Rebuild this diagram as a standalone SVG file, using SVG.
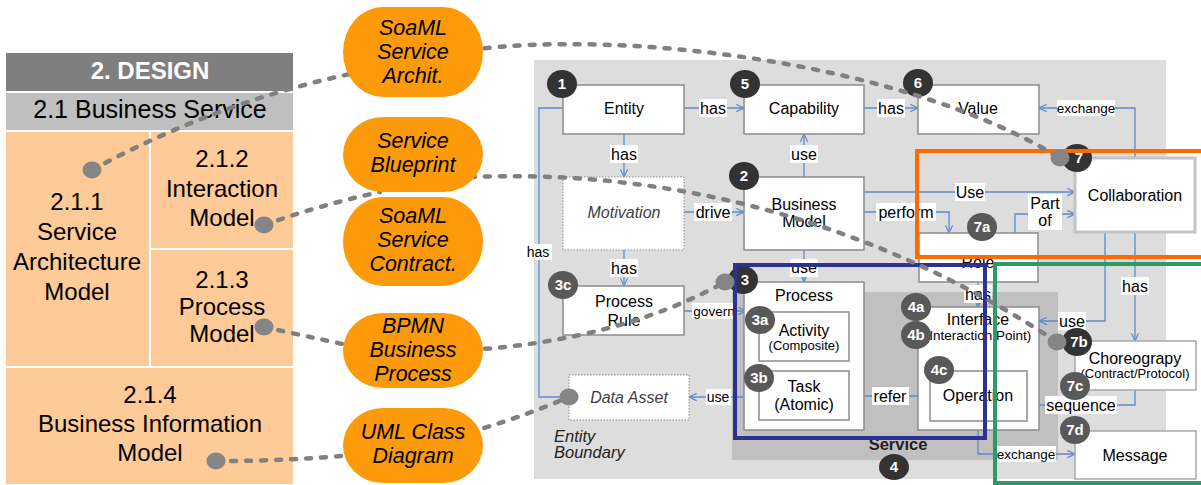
<svg xmlns="http://www.w3.org/2000/svg" width="1201" height="485" viewBox="0 0 1201 485">
<defs>
<style>
text{font-family:"Liberation Sans",Arial,sans-serif;}
.lp{font-size:24px;fill:#000;text-anchor:middle;}
.ov{font-size:21.5px;font-style:italic;fill:#000;text-anchor:middle;}
.oval{fill:#fc9a0a;}
.cell{fill:#fdca98;}
.nd{fill:#fff;stroke:#8c8c8c;stroke-width:1.5;}
.ndl{fill:#fff;stroke:#a8a8a8;stroke-width:1.5;}
.nddot{fill:#fff;stroke:#8c8c8c;stroke-width:1;stroke-dasharray:1.5 1.5;}
.nt{font-size:16px;fill:#000;text-anchor:middle;}
.ns{font-size:13px;fill:#000;text-anchor:middle;}
.ni{font-size:16px;font-style:italic;fill:#404040;text-anchor:middle;}
.lb{font-size:16px;fill:#000;text-anchor:middle;}
.lbs{font-size:13.5px;fill:#000;text-anchor:middle;}
.lbg{fill:#fff;}
.bd{fill:#333;}
.bds{fill:#595959;}
.bt{font-size:15px;font-weight:bold;fill:#fff;text-anchor:middle;}
.map{fill:none;stroke:#808080;stroke-width:4.5;stroke-linecap:round;stroke-dasharray:5 10;}
.dot{fill:#858585;}
</style>
<marker id="arr" viewBox="0 0 10 10" refX="9.5" refY="5" markerWidth="9" markerHeight="9" markerUnits="userSpaceOnUse" orient="auto">
<path d="M1,1 L9.5,5 L1,9" fill="none" stroke="#5b8bd0" stroke-width="1.3"/>
</marker>
</defs>
<rect width="1201" height="485" fill="#fff"/>

<!-- Left panel -->
<g id="panel">
<rect x="6" y="53" width="287" height="38" fill="#7f7f7f"/>
<text x="150" y="79" style="font-size:24px;font-weight:bold;fill:#fff;text-anchor:middle">2. DESIGN</text>
<rect x="6" y="93" width="287" height="37" fill="#bfbfbf"/>
<text x="150" y="118" style="font-size:25px;fill:#000;text-anchor:middle">2.1 Business Service</text>
</g>
<g id="n211">
<rect class="cell" x="6" y="132" width="143" height="234"/>
<text class="lp" x="77" y="210">2.1.1</text>
<text class="lp" x="77" y="240">Service</text>
<text class="lp" x="77" y="270">Architecture</text>
<text class="lp" x="77" y="300">Model</text>
</g>
<g id="n212">
<rect class="cell" x="151" y="132" width="142" height="116"/>
<text class="lp" x="222" y="167">2.1.2</text>
<text class="lp" x="222" y="197">Interaction</text>
<text class="lp" x="222" y="226">Model</text>
</g>
<g id="n213">
<rect class="cell" x="151" y="250" width="142" height="116"/>
<text class="lp" x="222" y="288">2.1.3</text>
<text class="lp" x="222" y="315">Process</text>
<text class="lp" x="222" y="342">Model</text>
</g>
<g id="n214">
<rect class="cell" x="6" y="368" width="287" height="116"/>
<text class="lp" x="150" y="403">2.1.4</text>
<text class="lp" x="150" y="432">Business Information</text>
<text class="lp" x="150" y="461">Model</text>
</g>

<!-- Right diagram backgrounds -->
<rect id="entity-boundary" x="534" y="60" width="632" height="419" fill="#dddddd"/>
<rect id="service-area" x="732" y="292" width="326" height="168" fill="#c0c0c0"/>
<text x="554" y="442" style="font-size:16.5px;font-style:italic;fill:#222">Entity</text>
<text x="554" y="458" style="font-size:16.5px;font-style:italic;fill:#222">Boundary</text>
<text x="898" y="450" style="font-size:16.5px;font-weight:bold;fill:#222;text-anchor:middle">Service</text>

<!-- Connectors -->
<g id="connectors" fill="none" stroke="#5b8bd0" stroke-width="1.3" marker-end="url(#arr)">
<path d="M684,108 H744"/>
<path d="M864,108 H918"/>
<path d="M624,134 V177"/>
<path d="M804,177 V134"/>
<path d="M684,212 H744"/>
<path d="M624,250 V286"/>
<path d="M804,250 V282"/>
<path d="M864,192 H1075"/>
<path d="M864,212 H949 V233"/>
<path d="M1015,233 V214 H1075"/>
<path d="M1135,158 V108 H1039"/>
<path d="M563,108 H539 V397 H569"/>
<path d="M684,311 H746"/>
<path d="M748,397 H689"/>
<path d="M930,396 H849"/>
<path d="M978,282 V307"/>
<path d="M1105,232 V321 H1039"/>
<path d="M1135,232 V341"/>
<path d="M1135,390 V405 H1027"/>
<path d="M978,421 V454 H1075"/>
</g>
<g id="connector-labels">
<rect class="lbg" x="699" y="99" width="28" height="18"/><text class="lb" x="713" y="114">has</text>
<rect class="lbg" x="877" y="99" width="28" height="18"/><text class="lb" x="891" y="114">has</text>
<rect class="lbg" x="610" y="145" width="28" height="18"/><text class="lb" x="624" y="160">has</text>
<rect class="lbg" x="790" y="145" width="28" height="18"/><text class="lb" x="804" y="160">use</text>
<rect class="lbg" x="694" y="203" width="38" height="18"/><text class="lb" x="713" y="218">drive</text>
<rect class="lbg" x="610" y="259" width="28" height="18"/><text class="lb" x="624" y="274">has</text>
<rect class="lbg" x="790" y="259" width="28" height="18"/><text class="lb" x="804" y="273">use</text>
<rect class="lbg" x="955" y="183" width="30" height="18"/><text class="lb" x="970" y="198">Use</text>
<rect class="lbg" x="876" y="203" width="60" height="18"/><text class="lb" x="906" y="218">perform</text>
<rect class="lbg" x="1028" y="194" width="34" height="36"/><text class="lb" x="1045" y="209">Part</text><text class="lb" x="1045" y="226">of</text>
<rect class="lbg" x="1057" y="100" width="58" height="16"/><text class="lbs" x="1086" y="113">exchange</text>
<rect class="lbg" x="525" y="244" width="27" height="16"/><text x="538" y="257" style="font-size:14px;fill:#000;text-anchor:middle">has</text>
<rect class="lbg" x="692" y="303" width="44" height="16"/><text class="lbs" x="714" y="316">govern</text>
<rect class="lbg" x="706" y="389" width="25" height="16"/><text x="718" y="402" style="font-size:14px;fill:#000;text-anchor:middle">use</text>
<rect class="lbg" x="872" y="387" width="37" height="18"/><text class="lb" x="890" y="402">refer</text>
<rect class="lbg" x="964" y="285" width="28" height="18"/><text class="lb" x="978" y="300">has</text>
<rect class="lbg" x="1058" y="312" width="28" height="18"/><text class="lb" x="1072" y="327">use</text>
<rect class="lbg" x="1121" y="277" width="28" height="18"/><text class="lb" x="1135" y="292">has</text>
<rect class="lbg" x="1045" y="396" width="72" height="18"/><text class="lb" x="1081" y="411">sequence</text>
<rect class="lbg" x="996" y="446" width="60" height="16"/><text class="lbs" x="1026" y="459">exchange</text>
</g>

<!-- Nodes -->
<g id="entity"><rect class="nd" x="563" y="85" width="121" height="49"/><text class="nt" x="624" y="114">Entity</text></g>
<g id="capability"><rect class="nd" x="744" y="85" width="120" height="49"/><text class="nt" x="804" y="114">Capability</text></g>
<g id="value"><rect class="nd" x="918" y="85" width="121" height="49"/><text class="nt" x="978" y="114">Value</text></g>
<g id="motivation"><rect class="nddot" x="563" y="177" width="121" height="73"/><text class="ni" x="624" y="218">Motivation</text></g>
<g id="business-model"><rect class="nd" x="744" y="177" width="120" height="73"/><text class="nt" x="804" y="210">Business</text><text class="nt" x="804" y="227">Model</text></g>
<g id="collaboration"><rect x="1075" y="158" width="120" height="74" fill="#fff" stroke="#c4c4c4" stroke-width="3"/><text class="nt" x="1135" y="201">Collaboration</text></g>
<g id="role"><rect class="nd" x="919" y="233" width="119" height="49"/><text class="nt" x="978" y="268">Role</text></g>
<g id="process-rule"><rect class="nd" x="563" y="286" width="121" height="49"/><text class="nt" x="624" y="307">Process</text><text class="nt" x="624" y="326">Rule</text></g>
<g id="process"><rect class="nd" x="744" y="282" width="120" height="148"/><text class="nt" x="804" y="301">Process</text></g>
<g id="activity"><rect class="nd" x="759" y="312" width="90" height="49"/><text class="nt" x="804" y="336">Activity</text><text class="ns" x="804" y="350">(Composite)</text></g>
<g id="task"><rect class="nd" x="759" y="371" width="90" height="49"/><text class="nt" x="804" y="392">Task</text><text class="nt" x="804" y="410">(Atomic)</text></g>
<g id="data-asset"><rect class="nddot" x="569" y="375" width="120" height="45"/><text class="ni" x="629" y="403">Data Asset</text></g>
<g id="interface"><rect class="nd" x="918" y="307" width="121" height="123"/><text class="nt" x="978" y="325">Interface</text><text x="978" y="340" style="font-size:13.5px;fill:#000;text-anchor:middle">(Interaction Point)</text></g>
<g id="operation"><rect class="nd" x="930" y="371" width="97" height="50"/><text class="nt" x="978" y="401">Operation</text></g>
<g id="choreograpy"><rect class="ndl" x="1075" y="341" width="121" height="49"/><text class="nt" x="1135" y="364">Choreograpy</text><text class="ns" x="1135" y="378">(Contract/Protocol)</text></g>
<g id="message"><rect class="ndl" x="1075" y="431" width="121" height="48"/><text class="nt" x="1135" y="461">Message</text></g>

<!-- Badges -->
<g id="badges">
<ellipse class="bd" cx="562" cy="84" rx="15" ry="14"/><text class="bt" x="562" y="89">1</text>
<ellipse class="bd" cx="745" cy="84" rx="15" ry="14"/><text class="bt" x="745" y="89">5</text>
<ellipse class="bd" cx="918" cy="83" rx="15" ry="14"/><text class="bt" x="918" y="88">6</text>
<ellipse class="bd" cx="744" cy="176" rx="15" ry="14"/><text class="bt" x="744" y="181">2</text>
<ellipse class="bd" cx="1077" cy="158" rx="15" ry="14"/><text class="bt" x="1079" y="163">7</text>
<ellipse class="bds" cx="982" cy="227" rx="15" ry="14"/><text class="bt" x="982" y="232">7a</text>
<ellipse class="bds" cx="563" cy="285" rx="15" ry="14"/><text class="bt" x="563" y="290">3c</text>
<ellipse class="bd" cx="743" cy="280" rx="15" ry="14"/><text class="bt" x="745" y="285">3</text>
<ellipse class="bds" cx="760" cy="320" rx="15" ry="14"/><text class="bt" x="760" y="325">3a</text>
<ellipse class="bds" cx="759" cy="378" rx="15" ry="14"/><text class="bt" x="759" y="383">3b</text>
<ellipse class="bds" cx="916" cy="307" rx="15" ry="14"/><text class="bt" x="916" y="312">4a</text>
<ellipse class="bds" cx="916" cy="335" rx="15" ry="14"/><text class="bt" x="916" y="340">4b</text>
<ellipse class="bds" cx="939" cy="370" rx="15" ry="14"/><text class="bt" x="939" y="375">4c</text>
<ellipse class="bd" cx="1077" cy="342" rx="15" ry="14"/><text class="bt" x="1079" y="347">7b</text>
<ellipse class="bds" cx="1075" cy="386" rx="15" ry="14"/><text class="bt" x="1075" y="391">7c</text>
<ellipse class="bds" cx="1075" cy="430" rx="15" ry="14"/><text class="bt" x="1075" y="435">7d</text>
<ellipse class="bd" cx="894" cy="467" rx="15" ry="13"/><text class="bt" x="894" y="472">4</text>
</g>

<!-- Frames -->
<g id="frames" fill="none" stroke-width="4">
<rect x="917" y="151" width="300" height="106" stroke="#ff6a00"/>
<rect x="735" y="265" width="250" height="173" stroke="#2e3192"/>
<rect x="995" y="264" width="220" height="219" stroke="#2e9a68"/>
</g>

<!-- Mapping lines -->
<g id="mappings">
<path class="map" d="M92,170 Q215,103 350,74"/>
<path class="map" d="M264,225 Q320,205 380,192"/>
<path class="map" d="M264,327 Q305,336 352,346"/>
<path class="map" d="M216,461 Q290,461 352,455"/>
<path class="map" d="M470,50 C620,30 900,60 1060,158"/>
<path class="map" d="M470,177 C640,170 850,205 1057,342"/>
<path class="map" d="M470,350 Q620,340 725,282"/>
<path class="map" d="M470,432 Q520,418 569,397"/>
<ellipse class="dot" cx="92" cy="170" rx="9.5" ry="8.5"/>
<ellipse class="dot" cx="264" cy="225" rx="9.5" ry="8.5"/>
<ellipse class="dot" cx="264" cy="327" rx="9.5" ry="8.5"/>
<ellipse class="dot" cx="216" cy="461" rx="9.5" ry="8.5"/>
<ellipse class="dot" cx="1060" cy="158" rx="9.5" ry="8.5"/>
<ellipse class="dot" cx="1057" cy="342" rx="9.5" ry="8.5"/>
<ellipse class="dot" cx="725" cy="282" rx="9.5" ry="8.5"/>
<ellipse class="dot" cx="569" cy="397" rx="9.5" ry="8.5"/>
</g>

<!-- Ovals -->
<g id="soaml-arch"><rect class="oval" x="343" y="7" width="140" height="90" rx="40" ry="45"/>
<text class="ov" x="413" y="35">SoaML</text><text class="ov" x="413" y="59">Service</text><text class="ov" x="413" y="83">Archit.</text></g>
<g id="service-blueprint"><rect class="oval" x="343" y="117" width="140" height="75" rx="40" ry="37.5"/>
<text class="ov" x="413" y="148">Service</text><text class="ov" x="413" y="172">Blueprint</text></g>
<g id="soaml-contract"><rect class="oval" x="343" y="197" width="140" height="89" rx="40" ry="44.5"/>
<text class="ov" x="413" y="223">SoaML</text><text class="ov" x="413" y="247">Service</text><text class="ov" x="413" y="271">Contract.</text></g>
<g id="bpmn"><rect class="oval" x="343" y="313" width="140" height="75" rx="40" ry="37.5"/>
<text class="ov" x="413" y="333">BPMN</text><text class="ov" x="413" y="357">Business</text><text class="ov" x="413" y="381">Process</text></g>
<g id="uml"><rect class="oval" x="343" y="408" width="140" height="75" rx="40" ry="37.5"/>
<text class="ov" x="413" y="439">UML Class</text><text class="ov" x="413" y="463">Diagram</text></g>
</svg>
